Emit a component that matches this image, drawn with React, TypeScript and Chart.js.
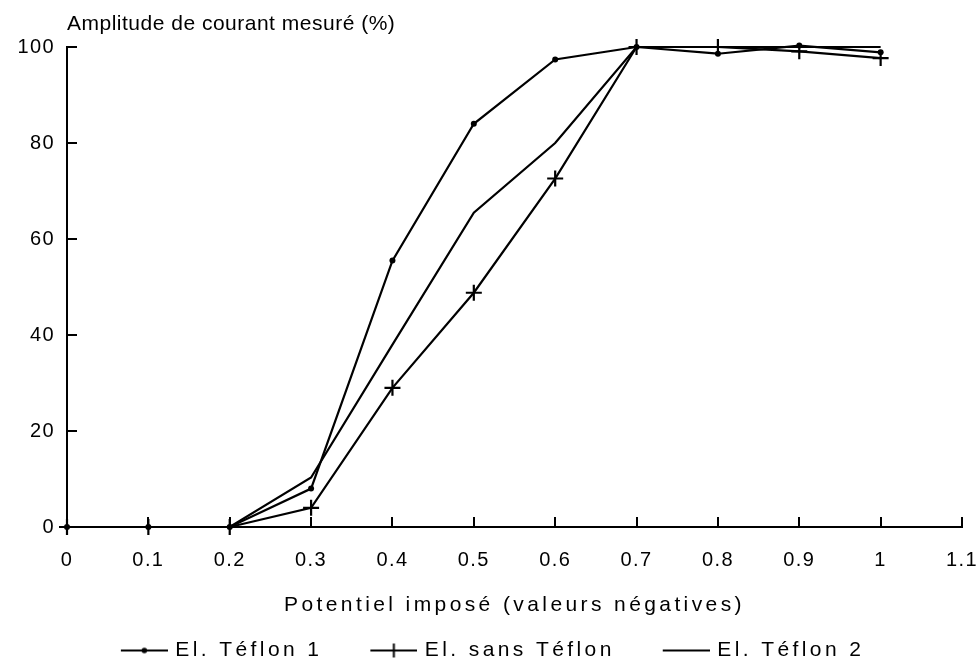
import React, { useEffect, useRef } from 'react';
import { Chart, registerables } from 'chart.js';

Chart.register(...registerables);

// ---- data ----
const xValues = [0, 0.1, 0.2, 0.3, 0.4, 0.5, 0.6, 0.7, 0.8, 0.9, 1.0];
const teflon1 = [0, 0, 0, 8, 55.5, 84, 97.4, 100, 98.6, 100.3, 98.9];
const sansTeflon = [0, 0, 0, 4, 29, 48.8, 72.6, 100, 100, 99.1, 97.7];
const teflon2 = [0, 0, 0, 10.3, 38, 65.5, 80, 100, 100, 100, 100];
const seriesLabels = ['El. Téflon 1', 'El. sans Téflon', 'El. Téflon 2'];
const xTickLabels = ['0', '0.1', '0.2', '0.3', '0.4', '0.5', '0.6', '0.7', '0.8', '0.9', '1', '1.1'];
const yTickLabels = ['0', '20', '40', '60', '80', '100'];
const yAxisTitle = 'Amplitude de courant mesuré (%)';
const xAxisTitle = 'Potentiel imposé (valeurs négatives)';

const FONT = 'Liberation Sans';

function makeLegendMarker(kind: 'dot' | 'cross' | 'none'): HTMLCanvasElement {
  const w = 77;
  const h = 20;
  const c = document.createElement('canvas');
  c.width = w;
  c.height = h;
  const g = c.getContext('2d')!;
  g.strokeStyle = '#000';
  g.fillStyle = '#000';
  g.lineWidth = 2;
  const x0 = w - 47;
  const x1 = w;
  const cy = h / 2;
  g.beginPath();
  g.moveTo(x0, cy);
  g.lineTo(x1, cy);
  g.stroke();
  const cx = (x0 + x1) / 2;
  if (kind === 'dot') {
    g.beginPath();
    g.arc(cx, cy, 2.8, 0, Math.PI * 2);
    g.fill();
  }
  if (kind === 'cross') {
    g.beginPath();
    g.moveTo(cx, cy - 7);
    g.lineTo(cx, cy + 7);
    g.stroke();
  }
  return c;
}

const spacingPlugin = {
  id: 'letterSpacingAndTitle',
  beforeLayout(chart: any) {
    chart.ctx.letterSpacing = '3.5px';
  },
  beforeDraw(chart: any) {
    chart.ctx.letterSpacing = '3.4px';
  },
  afterDatasetsDraw(chart: any) {
    chart.ctx.letterSpacing = '1.4px';
  },
  afterDraw(chart: any) {
    const ctx = chart.ctx;
    ctx.save();
    ctx.letterSpacing = '0.5px';
    ctx.font = `21px ${FONT}`;
    ctx.fillStyle = '#000';
    ctx.textAlign = 'left';
    ctx.textBaseline = 'alphabetic';
    ctx.fillText(yAxisTitle, chart.chartArea.left, 30);
    ctx.restore();
  },
};

export default function App() {
  const ref = useRef<HTMLCanvasElement>(null);

  useEffect(() => {
    const canvas = ref.current!;
    const markers = [makeLegendMarker('dot'), makeLegendMarker('cross'), makeLegendMarker('none')];
    const toPts = (ys: number[]) => xValues.map((x, i) => ({ x, y: ys[i] }));

    const chart = new Chart(canvas, {
      type: 'line',
      data: {
        datasets: [
          {
            label: seriesLabels[0],
            data: toPts(teflon1),
            borderColor: '#000',
            borderWidth: 2.2,
            tension: 0,
            fill: false,
            pointStyle: 'circle',
            pointRadius: 3,
            pointBackgroundColor: '#000',
            pointBorderWidth: 0,
            clip: false,
          },
          {
            label: seriesLabels[1],
            data: toPts(sansTeflon),
            borderColor: '#000',
            borderWidth: 2.2,
            tension: 0,
            fill: false,
            pointStyle: 'cross',
            pointRadius: 8,
            pointBorderColor: '#000',
            pointBorderWidth: 2.2,
            clip: false,
          },
          {
            label: seriesLabels[2],
            data: toPts(teflon2),
            borderColor: '#000',
            borderWidth: 2.2,
            tension: 0,
            fill: false,
            pointRadius: 0,
            clip: false,
          },
        ],
      } as any,
      options: {
        responsive: false,
        animation: false,
        devicePixelRatio: 1,
        layout: { autoPadding: false, padding: { left: 0, right: 15, top: 47, bottom: 0 } },
        plugins: {
          tooltip: { enabled: false },
          title: { display: false },
          legend: {
            position: 'bottom',
            fullSize: true,
            maxHeight: 43,
            labels: {
              usePointStyle: true,
              pointStyleWidth: 71,
              padding: 21,
              color: '#000',
              font: { family: FONT, size: 21 },
              generateLabels: (ch: any) =>
                ch.data.datasets.map((ds: any, i: number) => ({
                  text: ds.label,
                  pointStyle: markers[i],
                  datasetIndex: i,
                  hidden: false,
                  fillStyle: 'rgba(0,0,0,0)',
                  strokeStyle: 'rgba(0,0,0,0)',
                  lineWidth: 0,
                  fontColor: '#000',
                  rotation: 0,
                })),
            },
          },
        },
        scales: {
          x: {
            type: 'linear',
            min: 0,
            max: 1.1,
            ticks: {
              stepSize: 0.1,
              z: 1,
              padding: 31,
              color: '#000',
              autoSkip: false,
              maxRotation: 0,
              font: { family: FONT, size: 20 },
              callback: (v: any) => xTickLabels[Math.round(Number(v) * 10)] ?? '',
            },
            grid: {
              display: true,
              drawOnChartArea: false,
              drawTicks: true,
              tickLength: -10,
              color: '#000',
              lineWidth: 2,
            },
            border: { display: true, color: '#000', width: 2 },
            title: {
              display: true,
              text: xAxisTitle,
              color: '#000',
              font: { family: FONT, size: 21 },
              padding: { top: 0, bottom: 1 },
            },
            afterFit: (s: any) => {
              s.height = 92;
              s.paddingLeft = 0;
              s.paddingRight = 0;
            },
          },
          y: {
            type: 'linear',
            min: 0,
            max: 100,
            ticks: {
              stepSize: 20,
              z: 1,
              padding: 22,
              color: '#000',
              font: { family: FONT, size: 20 },
              callback: (v: any) => yTickLabels[Math.round(Number(v) / 20)] ?? '',
            },
            grid: {
              display: true,
              drawOnChartArea: false,
              drawTicks: true,
              tickLength: -10,
              color: '#000',
              lineWidth: 2,
            },
            border: { display: true, color: '#000', width: 2 },
            afterFit: (s: any) => {
              s.width = 67;
              s.paddingTop = 0;
              s.paddingBottom = 0;
            },
          },
        },
      } as any,
      plugins: [spacingPlugin as any],
    });

    return () => chart.destroy();
  }, []);

  return (
    <div style={{ position: 'fixed', left: 0, top: 0, width: 977, height: 662, background: '#fff' }}>
      <canvas ref={ref} width={977} height={662} style={{ display: 'block', width: 977, height: 662 }} />
    </div>
  );
}
